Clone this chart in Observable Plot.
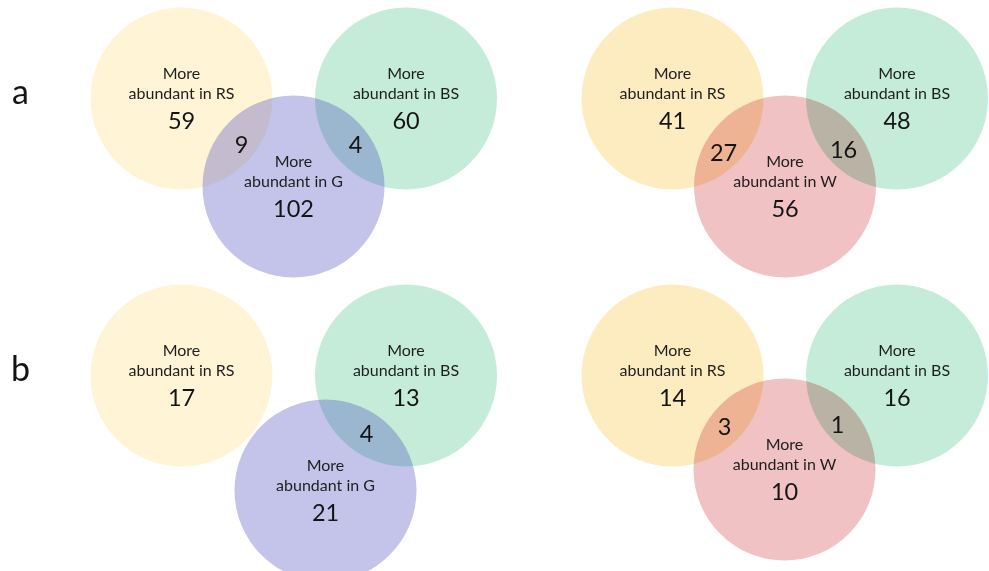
<!DOCTYPE html>
<html>
<head>
<meta charset="utf-8">
<script src="https://cdn.jsdelivr.net/npm/d3@7"></script>
<script src="https://cdn.jsdelivr.net/npm/@observablehq/plot@0.6"></script>
<style>
  html, body { margin: 0; padding: 0; background: #fff; }
</style>
</head>
<body>
<div id="chart"></div>
<script>
// Counts of taxa more abundant in each compartment (Venn diagrams).
// Panels run a-G, a-W, b-G, b-W.
const rowLabels = ["a", "b"];
const thirdSets = ["G", "W"];
const rsCounts = [59, 41, 17, 14];
const bsCounts = [60, 48, 13, 16];
const thirdCounts = [102, 56, 21, 10];
const rsThirdShared = [9, 27, null, 3];
const bsThirdShared = [4, 16, 4, 1];

// Layout (pixel units of the drawing area)
const W = 989, H = 571;
const colOffset = [0, 491];
const rowOffset = [0, 277];
const radius = 91;
const rsCenter = [181, 98];
const bsCenter = [405.5, 98];
const thirdCenter = [[293, 186], [293.5, 186], [325, 213], [293, 192]];
const rsSharedAt = [[241, 152], [232, 160], null, [233, 157]];
const bsSharedAt = [[355, 152], [352, 157], [366, 164], [346, 155]];
const rsFill = ["#FFF4D6", "#FDECC0"];
const bsFill = "#C5ECD8";
const wFill = "#F0C2C4";
// G is laid translucently over the others
const gFill = "#3A3ABC", gOpacity = 0.3;

const blendCircles = [];
const gCircles = [];
const headings = [];
const numbers = [];
const panelTags = [];

rowLabels.forEach((tag, r) => {
  panelTags.push({x: 20, y: rowOffset[r] + 103, text: tag});
  thirdSets.forEach((set, c) => {
    const i = r * 2 + c;
    const ox = colOffset[c], oy = rowOffset[r];
    const sets = [
      {name: "RS", at: rsCenter, fill: rsFill[c], n: rsCounts[i]},
      {name: "BS", at: bsCenter, fill: bsFill, n: bsCounts[i]},
      {name: set, at: thirdCenter[i], fill: set === "W" ? wFill : gFill, n: thirdCounts[i]}
    ];
    for (const s of sets) {
      const cx = ox + s.at[0], cy = oy + s.at[1];
      (s.name === "G" ? gCircles : blendCircles).push({x: cx, y: cy, fill: s.fill});
      headings.push({x: cx, y: cy - 20, text: "More"});
      headings.push({x: cx, y: cy, text: `abundant in ${s.name}`});
      numbers.push({x: cx, y: cy + 30, text: String(s.n)});
    }
    if (rsThirdShared[i] != null) {
      numbers.push({x: ox + rsSharedAt[i][0], y: oy + rsSharedAt[i][1], text: String(rsThirdShared[i])});
    }
    if (bsThirdShared[i] != null) {
      numbers.push({x: ox + bsSharedAt[i][0], y: oy + bsSharedAt[i][1], text: String(bsThirdShared[i])});
    }
  });
});

const chart = Plot.plot({
  width: W,
  height: H,
  margin: 0,
  x: {type: "linear", domain: [0, W], range: [0, W], axis: null},
  y: {type: "linear", domain: [0, H], range: [0, H], axis: null},
  color: {type: "identity"},
  style: {fontFamily: "Lato, sans-serif", background: "#fff", overflow: "visible"},
  marks: [
    Plot.dot(blendCircles, {x: "x", y: "y", r: radius, fill: "fill", stroke: null}),
    Plot.dot(gCircles, {x: "x", y: "y", r: radius, fill: "fill", fillOpacity: gOpacity, stroke: null}),
    Plot.text(headings, {x: "x", y: "y", text: "text", fontSize: 16, lineAnchor: "bottom", fill: "#1e1e1e"}),
    Plot.text(numbers, {x: "x", y: "y", text: "text", fontSize: 23.5, lineAnchor: "bottom", fill: "#141414"}),
    Plot.text(panelTags, {x: "x", y: "y", text: "text", fontSize: 34, lineAnchor: "bottom", fill: "#141414"})
  ]
});
// RS, BS and W circles combine like overlapping inks
const dotLayers = chart.querySelectorAll('g[aria-label="dot"]');
if (dotLayers.length) {
  d3.select(dotLayers[0]).selectAll("circle").style("mix-blend-mode", "multiply");
}
document.getElementById("chart").appendChild(chart);
</script>
</body>
</html>
